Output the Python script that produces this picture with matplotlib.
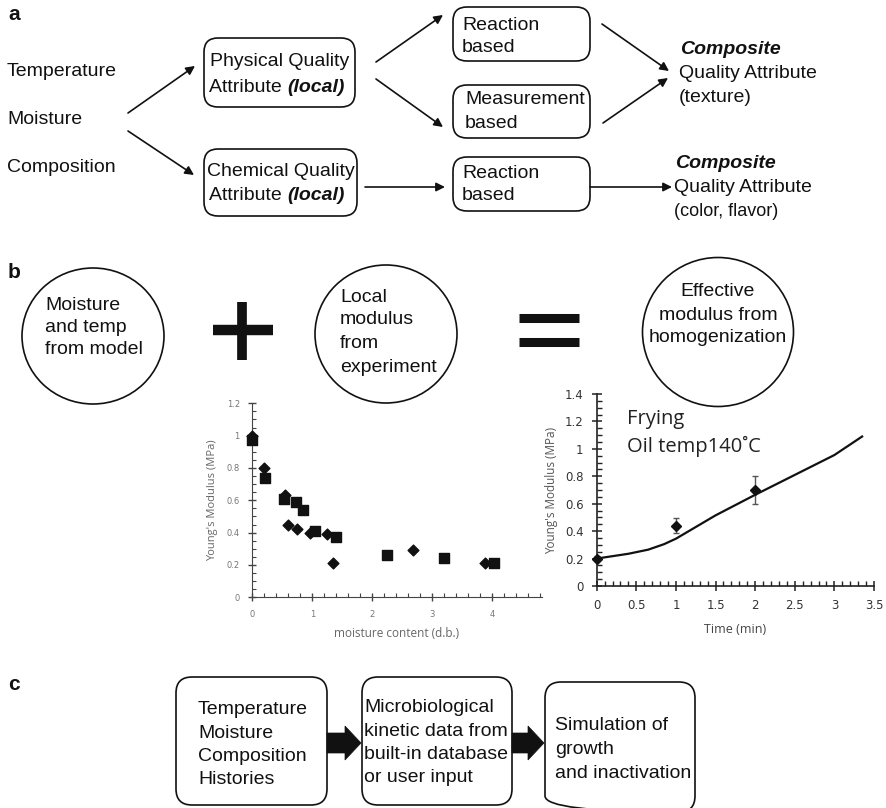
import matplotlib.pyplot as plt
from matplotlib.patches import FancyBboxPatch, Ellipse, FancyArrow
from matplotlib.ticker import MultipleLocator

# Data: left plot (modulus vs moisture)
sq_x = [0.0, 0.21, 0.52, 0.72, 0.85, 1.04, 1.39, 2.25, 3.2, 4.02]
sq_y = [0.97, 0.74, 0.61, 0.59, 0.54, 0.41, 0.37, 0.26, 0.245, 0.21]
dm_x = [0.0, 0.19, 0.54, 0.6, 0.75, 0.96, 1.24, 1.34, 2.67, 3.87]
dm_y = [1.0, 0.80, 0.63, 0.45, 0.42, 0.40, 0.39, 0.21, 0.29, 0.21]

# Data: right plot (modulus vs frying time)
time_pts = [0, 1, 2]
mod_pts = [0.2, 0.44, 0.70]
mod_err = [0.02, 0.055, 0.10]
model_t = [0, 0.4, 0.65, 0.85, 1.0, 1.5, 2.0, 2.5, 3.0, 3.35]
model_y = [0.2, 0.235, 0.265, 0.305, 0.345, 0.515, 0.665, 0.81, 0.955, 1.09]

FONT = 'Liberation Sans'
PFONT = 'Open Sans'
FS = 14

fig = plt.figure(figsize=(8.87, 8.08), dpi=100)
ax = fig.add_axes([0, 0, 1, 1])
ax.set_xlim(0, 887)
ax.set_ylim(808, 0)
ax.axis('off')


def txt(x, y, s, size=FS, **kw):
    kw.setdefault('va', 'center')
    kw.setdefault('ha', 'left')
    return ax.text(x, y, s, fontsize=size, family=FONT, color='#111111', **kw)


def rbox(x0, y0, x1, y1, r=14):
    ax.add_patch(FancyBboxPatch((x0, y0), x1 - x0, y1 - y0,
                                boxstyle=f'round,pad=0,rounding_size={r}',
                                fc='none', ec='#111111', lw=1.2))


def arrow(x0, y0, x1, y1):
    ax.annotate('', xy=(x1, y1), xytext=(x0, y0),
                arrowprops=dict(arrowstyle='-|>', color='#111111', lw=1.2,
                                mutation_scale=13, shrinkA=0, shrinkB=0))


# ---- panel a ----
txt(8, 15, 'a', size=15, weight='bold')
txt(7, 72, 'Temperature')
txt(7, 120, 'Moisture')
txt(7, 168, 'Composition')

rbox(204, 38, 355, 107)
txt(280, 62, 'Physical Quality', ha='center')
rbox(204, 149, 357, 216)
txt(281, 172, 'Chemical Quality', ha='center')

# "Attribute (local)" with bold italic part
for yy in [87, 195]:
    t = txt(209, yy, 'Attribute ')
    ax.annotate('(local)', xycoords=t, xy=(1, 0.5), va='center', fontsize=FS,
                family=FONT, weight='bold', style='italic', color='#111111')

arrow(128, 113, 195, 66)
arrow(128, 131, 194, 175)
arrow(376, 62, 443, 15)
arrow(376, 79, 443, 127)
arrow(365, 187, 445, 187)

rbox(453, 7, 590, 61)
txt(462, 25, 'Reaction')
txt(462, 48, 'based')
rbox(453, 85, 590, 138)
txt(465, 100, 'Measurement')
txt(465, 124, 'based')
rbox(453, 157, 590, 211)
txt(462, 173, 'Reaction')
txt(462, 196, 'based')

arrow(602, 24, 669, 71)
arrow(603, 123, 668, 78)
arrow(590, 187, 672, 187)

txt(680, 50, 'Composite', weight='bold', style='italic')
txt(679, 74, 'Quality Attribute')
txt(679, 98, '(texture)')
txt(675, 163, 'Composite', weight='bold', style='italic')
txt(674, 188, 'Quality Attribute')
txt(674, 212, '(color, flavor)', size=13)

# ---- panel b ----
txt(8, 272, 'b', size=15, weight='bold')
ax.add_patch(Ellipse((93, 336), 142, 136, fc='none', ec='#111111', lw=1.2))
txt(45, 305, 'Moisture')
txt(45, 328, 'and temp')
txt(45, 350, 'from model')

ax.add_patch(Ellipse((386, 334), 142, 138, fc='none', ec='#111111', lw=1.2))
txt(340, 297, 'Local')
txt(340, 320, 'modulus')
txt(340, 343, 'from')
txt(340, 367, 'experiment')

ax.add_patch(Ellipse((718, 332), 151, 149, fc='none', ec='#111111', lw=1.2))
txt(718, 292, 'Effective', ha='center')
txt(718, 315, 'modulus from', ha='center')
txt(718, 338, 'homogenization', ha='center')

# plus and equals signs
ax.plot([213, 273], [330, 330], color='#111111', lw=7.5, solid_capstyle='butt')
ax.plot([242.5, 242.5], [302, 360], color='#111111', lw=7, solid_capstyle='butt')
ax.plot([519, 579], [317.5, 317.5], color='#111111', lw=6.5, solid_capstyle='butt')
ax.plot([519, 579], [341.5, 341.5], color='#111111', lw=6.5, solid_capstyle='butt')

# ---- panel c ----
txt(8, 685, 'c', size=15, weight='bold')
rbox(176, 677, 327, 805, r=16)
for i, s in enumerate(['Temperature', 'Moisture', 'Composition', 'Histories']):
    txt(198, 710 + i * 23.3, s)
rbox(362, 677, 512, 805, r=16)
for i, s in enumerate(['Microbiological', 'kinetic data from', 'built-in database', 'or user input']):
    txt(364, 708 + i * 23.3, s)
rbox(545, 682, 695, 812, r=16)
for i, s in enumerate(['Simulation of', 'growth', 'and inactivation']):
    txt(555, 726 + i * 23.5, s)

for x0, x1 in [(327, 361), (512, 544)]:
    ax.add_patch(FancyArrow(x0, 743, x1 - x0, 0, width=20, head_width=34,
                            head_length=16, length_includes_head=True,
                            fc='#111111', ec='#111111', lw=0.5))

# ---- left plot ----
W, H = 887, 808
a1 = fig.add_axes([252.3 / W, 1 - 597.3 / H, (541.7 - 252.3) / W, (597.3 - 403.3) / H])
a1.set_facecolor('none')
a1.scatter(sq_x, sq_y, marker='s', s=55, color='#111111', clip_on=False, zorder=3)
a1.scatter(dm_x, dm_y, marker='D', s=30, color='#111111', clip_on=False, zorder=3)
a1.set_xlim(0, 4.82)
a1.set_ylim(0, 1.2)
a1.xaxis.set_minor_locator(MultipleLocator(0.2))
a1.yaxis.set_minor_locator(MultipleLocator(0.05))
a1.set_xticks([0, 1, 2, 3, 4])
a1.set_xticklabels(['0', '1', '2', '3', '4'])
a1.set_yticks([0, 0.2, 0.4, 0.6, 0.8, 1.0, 1.2])
a1.set_yticklabels(['0', '0.2', '0.4', '0.6', '0.8', '1', '1.2'])
for sp in ['top', 'right']:
    a1.spines[sp].set_visible(False)
for sp in ['left', 'bottom']:
    a1.spines[sp].set_color('#444444')
a1.tick_params(which='major', direction='inout', length=6, width=1, color='#444444',
               labelsize=6, labelcolor='#777777', pad=6)
a1.tick_params(which='minor', direction='in', length=3, width=0.8, color='#444444')
a1.set_xlabel('moisture content (d.b.)', fontsize=8.5, family=PFONT, color='#666666', labelpad=6)
a1.set_ylabel("Young's Modulus (MPa)", fontsize=8, family=PFONT, color='#666666', labelpad=6)

# ---- right plot ----
a2 = fig.add_axes([596.7 / W, 1 - 586 / H, (874 - 596.7) / W, (586 - 394) / H])
a2.set_facecolor('none')
a2.plot(model_t, model_y, color='#111111', lw=1.6)
a2.errorbar(time_pts, mod_pts, yerr=mod_err, fmt='D', ms=5.5, color='#111111',
            ecolor='#555555', elinewidth=1, capsize=2.5, clip_on=False, zorder=3)
a2.set_xlim(0, 3.5)
a2.set_ylim(0, 1.4)
a2.xaxis.set_minor_locator(MultipleLocator(0.1))
a2.yaxis.set_minor_locator(MultipleLocator(0.05))
a2.set_xticks([0, 0.5, 1, 1.5, 2, 2.5, 3, 3.5])
a2.set_xticklabels(['0', '0.5', '1', '1.5', '2', '2.5', '3', '3.5'])
a2.set_yticks([0, 0.2, 0.4, 0.6, 0.8, 1.0, 1.2, 1.4])
a2.set_yticklabels(['0', '0.2', '0.4', '0.6', '0.8', '1', '1.2', '1.4'])
for sp in ['top', 'right']:
    a2.spines[sp].set_visible(False)
for sp in ['left', 'bottom']:
    a2.spines[sp].set_color('#222222')
    a2.spines[sp].set_linewidth(1.2)
a2.tick_params(which='major', direction='inout', length=7, width=1.1, color='#222222',
               labelsize=8.5, labelcolor='#333333', pad=6)
a2.tick_params(which='minor', direction='in', length=3.5, width=1, color='#222222')
a2.set_xlabel('Time (min)', fontsize=9, family=PFONT, color='#444444', labelpad=8)
a2.set_ylabel("Young's Modulus (MPa)", fontsize=8.5, family=PFONT, color='#555555', labelpad=5)
a2.text(0.38, 1.22, 'Frying', fontsize=14.5, family=PFONT, color='#222222', va='center')
a2.text(0.38, 1.02, 'Oil temp140\u02daC', fontsize=14.5, family=PFONT, color='#222222', va='center')

fig.savefig('out.png', dpi=100)
